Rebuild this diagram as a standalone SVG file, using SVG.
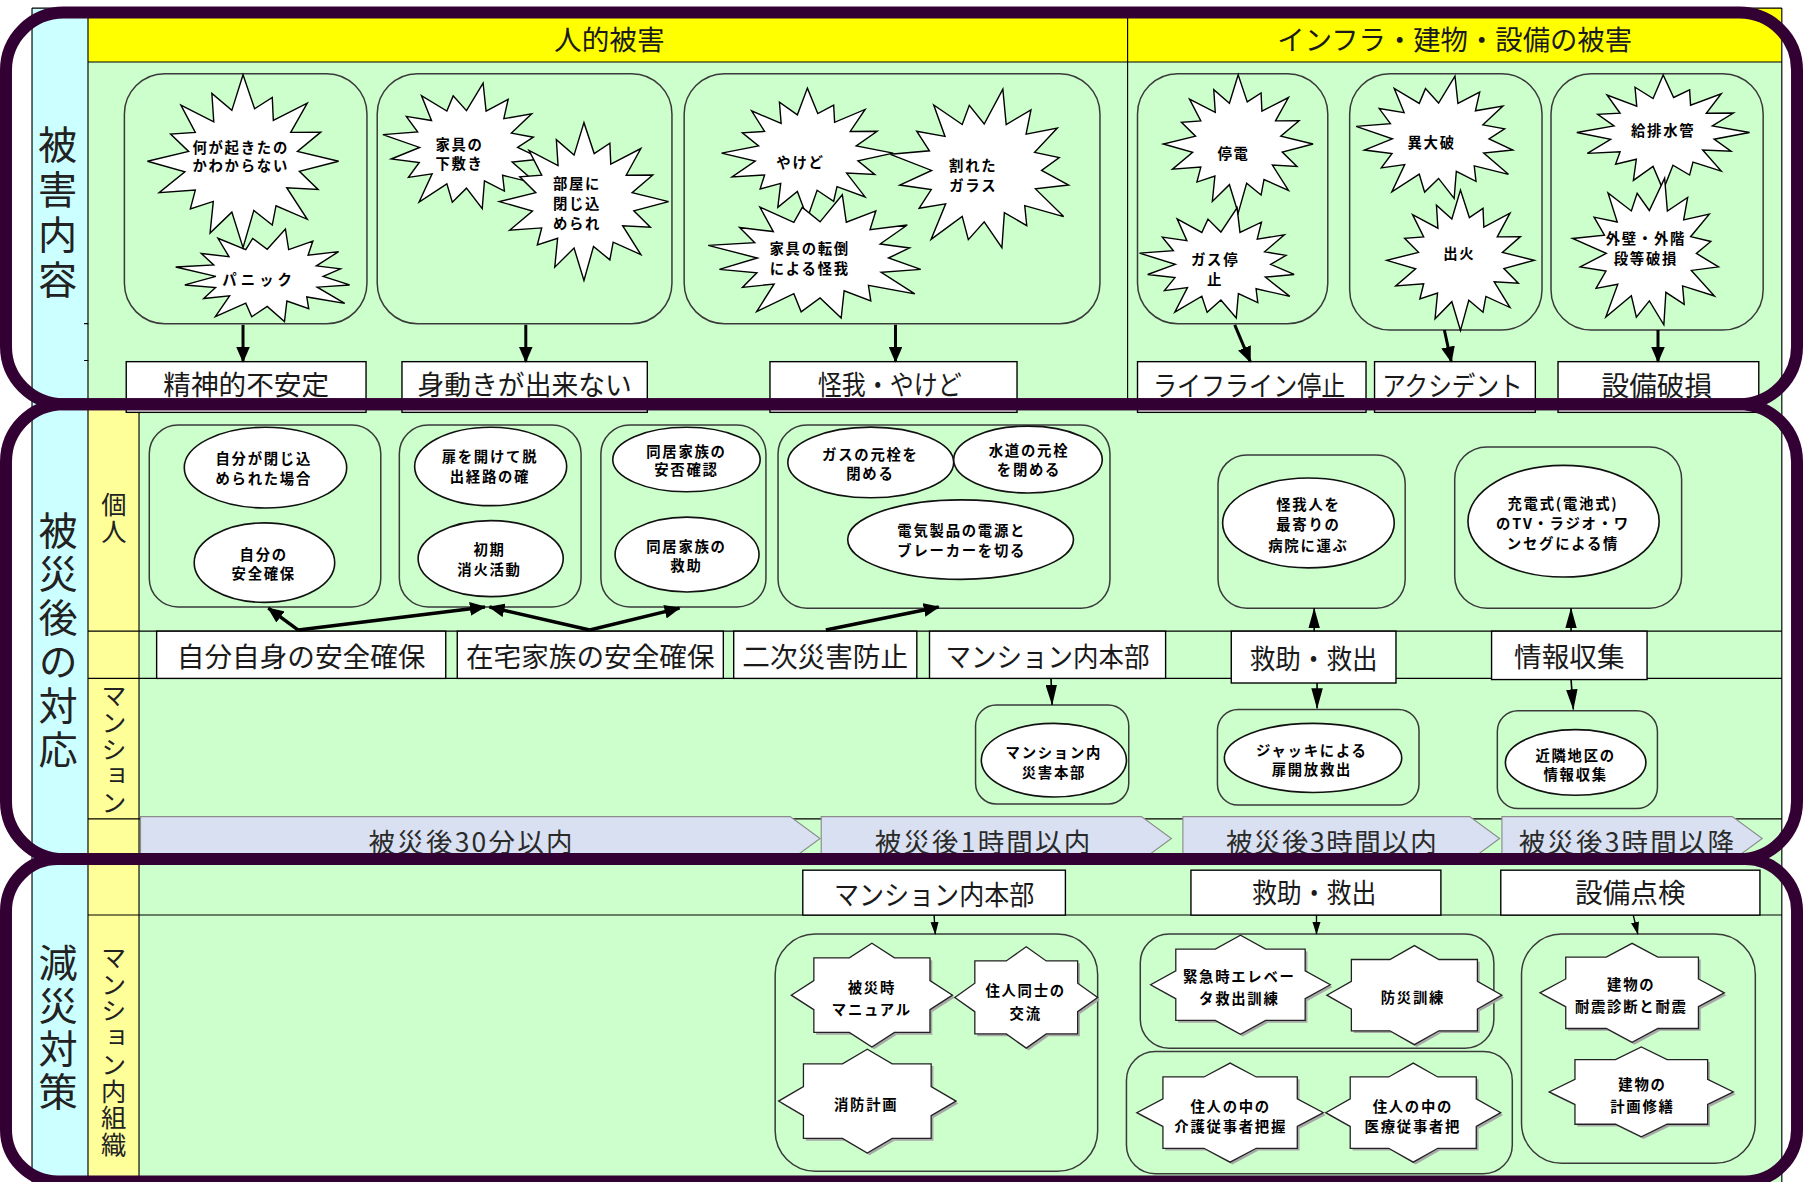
<svg xmlns="http://www.w3.org/2000/svg" width="1806" height="1182" viewBox="0 0 1806 1182">
<defs>
<style>
.vt{font-family:"Noto Sans CJK JP","Noto Sans CJK SC",sans-serif;writing-mode:vertical-rl;text-anchor:middle;fill:#222}
.lb{font-family:"Noto Sans CJK JP","Noto Sans CJK SC",sans-serif;font-size:24px;text-anchor:middle;dominant-baseline:central;fill:#1a1a1a}
.bt{font-family:"Noto Sans CJK JP","Noto Sans CJK SC",sans-serif;font-size:23px;text-anchor:middle;dominant-baseline:central;fill:#2a2a2a}
.s{font-family:"Noto Sans CJK JP","Noto Sans CJK SC",sans-serif;font-size:12.5px;font-weight:700;text-anchor:middle;dominant-baseline:central;fill:#000;letter-spacing:1.5px}
.tl{fill:none;stroke:#000;stroke-width:1}
.grp{fill:none;stroke:#3a3a3a;stroke-width:1.3}
.box{fill:#fff;stroke:#000;stroke-width:1.2}
.burst{fill:#fff;stroke:#000;stroke-width:1.4}
.ell{fill:#fff;stroke:#111;stroke-width:1.4}
.oct{fill:#fff;stroke:#222;stroke-width:1.3}
.osh{fill:#a8a8a8;stroke:none}
.panel{fill:none;stroke:#330033;stroke-width:10.4}
.bn{fill:#D9E0F1;stroke:#8c8c8c;stroke-width:1}
.aT{stroke:#000;stroke-width:2.6;fill:none;marker-end:url(#mA)}
.aD{stroke:#000;stroke-width:3;fill:none;marker-end:url(#mA)}
.aN{stroke:#000;stroke-width:1.4;fill:none;marker-end:url(#mT)}
.aS{stroke:#000;stroke-width:1.2;fill:none;marker-end:url(#mS)}
</style>
<polygon id="x1" vector-effect="non-scaling-stroke" points="1,0 .589,.117 .785,.326 .457,.306 .672,.672 .345,.515 .306,.739 .113,.569 0,1 -.117,.589 -.345,.832 -.311,.465 -.551,.551 -.499,.334 -.878,.364 -.608,.121 -1,0 -.569,-.113 -.758,-.314 -.499,-.334 -.65,-.65 -.306,-.457 -.326,-.785 -.117,-.589 0,-1 .121,-.608 .306,-.739 .317,-.474 .672,-.672 .499,-.334 .813,-.337 .569,-.113"/>
<polygon id="x2" vector-effect="non-scaling-stroke" points=".883,.176 .536,.222 .831,.556 .424,.424 .445,.665 .211,.508 .185,.932 0,.62 -.166,.834 -.23,.554 -.556,.831 -.403,.403 -.681,.456 -.554,.23 -.883,.176 -.55,0 -.981,-.195 -.573,-.237 -.706,-.473 -.41,-.41 -.528,-.789 -.23,-.554 -.156,-.785 0,-.56 .195,-.981 .23,-.554 .489,-.731 .438,-.438 .765,-.512 .527,-.218 .785,-.156 .6,0"/>
<polygon id="o8" vector-effect="non-scaling-stroke" points="1,0 .72,.28 .72,.72 .28,.72 0,1 -.28,.72 -.72,.72 -.72,.28 -1,0 -.72,-.28 -.72,-.72 -.28,-.72 0,-1 .28,-.72 .72,-.72 .72,-.28"/>
<marker id="mA" markerUnits="userSpaceOnUse" viewBox="0 0 14 12" refX="13" refY="6" markerWidth="14" markerHeight="12" orient="auto"><path d="M0,0L14,6L0,12z" fill="#000"/></marker>
<marker id="mT" markerUnits="userSpaceOnUse" viewBox="0 0 18 10" refX="17.5" refY="5" markerWidth="18" markerHeight="10" orient="auto"><path d="M0,0L18,5L0,10z" fill="#000"/></marker>
<marker id="mS" markerUnits="userSpaceOnUse" viewBox="0 0 11 7" refX="10.5" refY="3.5" markerWidth="11" markerHeight="7" orient="auto"><path d="M0,0L11,3.5L0,7z" fill="#000"/></marker>
</defs>
<rect width="1806" height="1182" fill="#fff"/>
<g transform="scale(1.15179)">
<g id="table">
<rect x="27.8" y="7" width="48.6" height="1020" fill="#CCFFFF"/>
<rect x="76.4" y="7" width="1470.6" height="46.8" fill="#FFFF00"/>
<rect x="76.4" y="53.8" width="1470.6" height="297.2" fill="#CCFFCC"/>
<rect x="120.7" y="351" width="1426.3" height="676" fill="#CCFFCC"/>
<rect x="76.4" y="351" width="44.3" height="676" fill="#FFFF99"/>
<path class="tl" d="M27.8,7V1030M76.4,7V1030M120.7,351V1030M1547,7V1030M27.8,7H1547M76.4,53.8H1547M979,7V351M76.4,548H1547M76.4,589H1547M76.4,711H1547M76.4,794.4H1547M73,281H77M73,313H77"/>
<text class="lb" x="529" y="33">人的被害</text>
<text class="lb" x="1263" y="33" textLength="308" lengthAdjust="spacingAndGlyphs">インフラ・建物・設備の被害</text>
<text class="vt" x="50" y="186" style="font-size:34px;letter-spacing:5px">被害内容</text>
<text class="vt" x="50.5" y="557" style="font-size:34px;letter-spacing:4px">被災後の対応</text>
<text class="vt" x="50.5" y="893" style="font-size:34px;letter-spacing:3.5px">減災対策</text>
<text class="vt" x="99" y="450" style="font-size:22px;letter-spacing:1px">個人</text>
<text class="vt" x="99" y="651" style="font-size:22px;letter-spacing:1.2px">マンション</text>
<text class="vt" x="98.6" y="913" style="font-size:22px;letter-spacing:1.2px">マンション内組織</text>
</g>
<g id="timeline">
<polygon class="bn" points="122,709 686,709 712,728 686,747 122,747"/>
<polygon class="bn" points="713,709 991,709 1017,728 991,747 713,747"/>
<polygon class="bn" points="1027,709 1276,709 1302,728 1276,747 1027,747"/>
<polygon class="bn" points="1304,709 1504,709 1530,728 1504,747 1304,747"/>
<text class="bt" x="408.5" y="729.5" textLength="177">被災後30分以内</text>
<text class="bt" x="853" y="729.5" textLength="187">被災後1時間以内</text>
<text class="bt" x="1156" y="729.5" textLength="183">被災後3時間以内</text>
<text class="bt" x="1412" y="729.5" textLength="187">被災後3時間以降</text>
</g>
<g id="dmg-human-mental">
<rect class="grp" x="108" y="64" width="210.6" height="217" rx="35"/>
<g id="b-panic"><use href="#x2" class="burst" transform="translate(232 240) scale(81 42)"/><text class="s" x="225" y="242" style="letter-spacing:3.5px">パニック</text></g>
<g id="b-what"><use href="#x1" class="burst" transform="translate(211 140) scale(83 75)"/><text class="s"><tspan x="209" y="126.5">何が起きたの</tspan><tspan x="209" y="142">かわからない</tspan></text></g>
</g>
<g id="dmg-human-stuck">
<rect class="grp" x="327.5" y="64" width="255.9" height="217" rx="35"/>
<g id="b-furniture"><use href="#x2" class="burst" transform="translate(405 128) scale(74 57)"/><text class="s"><tspan x="399" y="124">家具の</tspan><tspan x="399" y="140.5">下敷き</tspan></text></g>
<g id="b-locked"><use href="#x1" class="burst" transform="translate(507 175) scale(73.5 68.5)"/><text class="s"><tspan x="501" y="158">部屋に</tspan><tspan x="501" y="175.5">閉じ込</tspan><tspan x="501" y="193">められ</tspan></text></g>
</g>
<g id="dmg-human-injury">
<rect class="grp" x="594" y="64" width="361" height="217" rx="35"/>
<g id="b-burn"><use href="#x1" class="burst" transform="translate(701 133) scale(74.5 56.5)"/><text class="s" x="695" y="140">やけど</text></g>
<g id="b-glass"><use href="#x2" class="burst" transform="translate(854.5 148) scale(83 72)"/><text class="s"><tspan x="845" y="142">割れた</tspan><tspan x="845" y="160">ガラス</tspan></text></g>
<g id="b-fall"><use href="#x2" class="burst" transform="translate(712 224) scale(99 56)"/><text class="s"><tspan x="703" y="214.5">家具の転倒</tspan><tspan x="703" y="232">による怪我</tspan></text></g>
</g>
<g id="dmg-lifeline">
<rect class="grp" x="987.6" y="64" width="165.2" height="217" rx="35"/>
<g id="b-power"><use href="#x1" class="burst" transform="translate(1075 125) scale(65 60)"/><text class="s" x="1071" y="132">停電</text></g>
<g id="b-gas"><use href="#x2" class="burst" transform="translate(1060 229.5) scale(72 50)"/><text class="s"><tspan x="1055" y="224">ガス停</tspan><tspan x="1055" y="241">止</tspan></text></g>
</g>
<g id="dmg-accident">
<rect class="grp" x="1171.8" y="64" width="167" height="222.5" rx="35"/>
<g id="b-ab"><use href="#x2" class="burst" transform="translate(1249 120.5) scale(73 55.5)"/><text class="s" x="1243" y="123">異大破</text></g>
<g id="b-fire"><use href="#x1" class="burst" transform="translate(1268 226) scale(64 61)"/><text class="s" x="1267" y="219">出火</text></g>
</g>
<g id="dmg-equipment">
<rect class="grp" x="1346.6" y="64" width="184.2" height="222.5" rx="35"/>
<g id="b-pipe"><use href="#x1" class="burst" transform="translate(1444 115) scale(75 50)"/><text class="s" x="1444" y="112">給排水管</text></g>
<g id="b-wall"><use href="#x2" class="burst" transform="translate(1432 220) scale(68 66.5)"/><text class="s"><tspan x="1429" y="206">外壁・外階</tspan><tspan x="1429" y="223">段等破損</tspan></text></g>
</g>
<g id="lbl-mental"><rect class="box" x="109.6" y="314" width="208.2" height="44"/><text class="lb" x="213.7" y="332.5">精神的不安定</text></g>
<g id="lbl-stuck"><rect class="box" x="349" y="314" width="213" height="44"/><text class="lb" x="455.5" y="332.5" textLength="186" lengthAdjust="spacingAndGlyphs">身動きが出来ない</text></g>
<g id="lbl-injury"><rect class="box" x="668.5" y="314" width="214.5" height="44"/><text class="lb" x="772.5" y="332.5" textLength="125" lengthAdjust="spacingAndGlyphs">怪我・やけど</text></g>
<g id="lbl-lifeline"><rect class="box" x="987.6" y="314" width="198.4" height="44"/><text class="lb" x="1084.5" y="333" textLength="167" lengthAdjust="spacingAndGlyphs">ライフライン停止</text></g>
<g id="lbl-accident"><rect class="box" x="1193.4" y="314" width="139.6" height="44"/><text class="lb" x="1261" y="333" textLength="122" lengthAdjust="spacingAndGlyphs">アクシデント</text></g>
<g id="lbl-equip"><rect class="box" x="1352.7" y="314" width="174.3" height="44"/><text class="lb" x="1438.5" y="333">設備破損</text></g>
<g id="ind-self">
<rect class="grp" x="129.6" y="369" width="201" height="158" rx="25"/>
<ellipse class="ell" cx="230.5" cy="406" rx="70.5" ry="35"/><text class="s"><tspan x="229" y="397">自分が閉じ込</tspan><tspan x="229" y="414.5">められた場合</tspan></text>
<ellipse class="ell" cx="229.6" cy="488.5" rx="61" ry="34.5"/><text class="s"><tspan x="229" y="480">自分の</tspan><tspan x="229" y="497">安全確保</tspan></text>
</g>
<g id="ind-escape">
<rect class="grp" x="346.7" y="369" width="157.8" height="158" rx="25"/>
<ellipse class="ell" cx="426" cy="405" rx="66" ry="34"/><text class="s"><tspan x="425.4" y="395">扉を開けて脱</tspan><tspan x="425.4" y="412.5">出経路の確</tspan></text>
<ellipse class="ell" cx="426" cy="485" rx="63" ry="33"/><text class="s"><tspan x="425" y="476">初期</tspan><tspan x="425" y="493">消火活動</tspan></text>
</g>
<g id="ind-family">
<rect class="grp" x="521.7" y="369" width="143.3" height="158" rx="25"/>
<ellipse class="ell" cx="596" cy="399" rx="64" ry="28"/><text class="s"><tspan x="596" y="390.5">同居家族の</tspan><tspan x="596" y="406.5">安否確認</tspan></text>
<ellipse class="ell" cx="596.5" cy="481.5" rx="62.5" ry="32.5"/><text class="s"><tspan x="596" y="473">同居家族の</tspan><tspan x="596" y="490">救助</tspan></text>
</g>
<g id="ind-secondary">
<rect class="grp" x="675.5" y="369" width="288.2" height="159" rx="25"/>
<ellipse class="ell" cx="756" cy="401.5" rx="72" ry="30.7"/><text class="s"><tspan x="755.7" y="393.5">ガスの元栓を</tspan><tspan x="755.7" y="410">閉める</tspan></text>
<ellipse class="ell" cx="892.5" cy="399" rx="64.5" ry="29"/><text class="s"><tspan x="893.4" y="389.5">水道の元栓</tspan><tspan x="893.4" y="406.5">を閉める</tspan></text>
<ellipse class="ell" cx="834" cy="468.5" rx="98" ry="34.5"/><text class="s"><tspan x="835" y="459">電気製品の電源と</tspan><tspan x="835" y="477">ブレーカーを切る</tspan></text>
</g>
<g id="ind-rescue">
<rect class="grp" x="1057.5" y="395" width="162.5" height="133" rx="25"/>
<ellipse class="ell" cx="1136" cy="454" rx="74.5" ry="39"/><text class="s"><tspan x="1136" y="437">怪我人を</tspan><tspan x="1136" y="454.5">最寄りの</tspan><tspan x="1136" y="472">病院に運ぶ</tspan></text>
</g>
<g id="ind-info">
<rect class="grp" x="1263" y="388" width="197" height="140" rx="28"/>
<ellipse class="ell" cx="1357.5" cy="452.5" rx="83" ry="48.5"/><text class="s"><tspan x="1357" y="435.5">充電式(電池式)</tspan><tspan x="1357" y="453">のTV・ラジオ・ワ</tspan><tspan x="1357" y="470.5">ンセグによる情</tspan></text>
</g>
<g id="row-self"><rect class="box" x="136" y="548" width="251" height="41"/><text class="lb" x="261.5" y="568.5">自分自身の安全確保</text></g>
<g id="row-family"><rect class="box" x="397" y="548" width="231" height="41"/><text class="lb" x="512.5" y="568.5">在宅家族の安全確保</text></g>
<g id="row-secondary"><rect class="box" x="637" y="548" width="159" height="41"/><text class="lb" x="716.5" y="568.5">二次災害防止</text></g>
<g id="row-hq"><rect class="box" x="807" y="548" width="205" height="41"/><text class="lb" x="909.5" y="568.5" textLength="177" lengthAdjust="spacingAndGlyphs">マンション内本部</text></g>
<g id="row-rescue"><rect class="box" x="1069" y="548" width="143" height="45"/><text class="lb" x="1140.5" y="570" textLength="111" lengthAdjust="spacingAndGlyphs">救助・救出</text></g>
<g id="row-info"><rect class="box" x="1295" y="548" width="135" height="42"/><text class="lb" x="1362.5" y="569">情報収集</text></g>
<g id="man-hq"><rect class="grp" x="847" y="612" width="133" height="86" rx="18"/><ellipse class="ell" cx="915" cy="660" rx="63" ry="32"/><text class="s"><tspan x="915" y="652">マンション内</tspan><tspan x="915" y="669.5">災害本部</tspan></text></g>
<g id="man-rescue"><rect class="grp" x="1057" y="616" width="175" height="83" rx="18"/><ellipse class="ell" cx="1140" cy="658" rx="77" ry="30"/><text class="s"><tspan x="1139" y="650.5">ジャッキによる</tspan><tspan x="1139" y="667">扉開放救出</tspan></text></g>
<g id="man-info"><rect class="grp" x="1300" y="617" width="139" height="85" rx="18"/><ellipse class="ell" cx="1368" cy="662" rx="61" ry="28.5"/><text class="s"><tspan x="1368" y="654.5">近隣地区の</tspan><tspan x="1368" y="671">情報収集</tspan></text></g>
<g id="hdr-hq"><rect class="box" x="697" y="755.5" width="228" height="39"/><text class="lb" x="811" y="775" textLength="174" lengthAdjust="spacingAndGlyphs">マンション内本部</text></g>
<g id="hdr-rescue"><rect class="box" x="1034" y="755.5" width="217" height="39"/><text class="lb" x="1141" y="774" textLength="108" lengthAdjust="spacingAndGlyphs">救助・救出</text></g>
<g id="hdr-check"><rect class="box" x="1303" y="755.5" width="225" height="39"/><text class="lb" x="1415.5" y="774">設備点検</text></g>
<g id="mit-hq">
<rect class="grp" x="673" y="811" width="280" height="206" rx="35"/>
<g id="s-manual"><use href="#o8" class="osh" transform="translate(759 866) scale(70 45)"/><use href="#o8" class="oct" transform="translate(757 864) scale(70 45)"/><text class="s"><tspan x="757" y="856">被災時</tspan><tspan x="757" y="875.5">マニュアル</tspan></text></g>
<g id="s-exchange"><use href="#o8" class="osh" transform="translate(893 868) scale(62 44)"/><use href="#o8" class="oct" transform="translate(891 866) scale(62 44)"/><text class="s"><tspan x="890.5" y="859">住人同士の</tspan><tspan x="890.5" y="878.5">交流</tspan></text></g>
<g id="s-fireplan"><use href="#o8" class="osh" transform="translate(755 958) scale(77 45)"/><use href="#o8" class="oct" transform="translate(753 956) scale(77 45)"/><text class="s" x="752" y="957.8">消防計画</text></g>
</g>
<g id="mit-drill">
<rect class="grp" x="990" y="811" width="307" height="99" rx="25"/>
<g id="s-elevator"><use href="#o8" class="osh" transform="translate(1079 857) scale(78 43)"/><use href="#o8" class="oct" transform="translate(1077 855) scale(78 43)"/><text class="s"><tspan x="1076" y="846.5">緊急時エレベー</tspan><tspan x="1076" y="865.5">タ救出訓練</tspan></text></g>
<g id="s-drill"><use href="#o8" class="osh" transform="translate(1230 866) scale(76 43)"/><use href="#o8" class="oct" transform="translate(1228 864) scale(76 43)"/><text class="s" x="1226.7" y="865.3">防災訓練</text></g>
</g>
<g id="mit-people">
<rect class="grp" x="978" y="913" width="335" height="106" rx="25"/>
<g id="s-care"><use href="#o8" class="osh" transform="translate(1070 968) scale(81 43)"/><use href="#o8" class="oct" transform="translate(1068 966) scale(81 43)"/><text class="s"><tspan x="1068.5" y="959">住人の中の</tspan><tspan x="1068.5" y="977">介護従事者把握</tspan></text></g>
<g id="s-medical"><use href="#o8" class="osh" transform="translate(1229 968) scale(76 43)"/><use href="#o8" class="oct" transform="translate(1227 966) scale(76 43)"/><text class="s"><tspan x="1226.7" y="959">住人の中の</tspan><tspan x="1226.7" y="977">医療従事者把</tspan></text></g>
</g>
<g id="mit-building">
<rect class="grp" x="1321" y="811" width="203" height="199" rx="35"/>
<g id="s-seismic"><use href="#o8" class="osh" transform="translate(1419 864) scale(80 43)"/><use href="#o8" class="oct" transform="translate(1417 862) scale(80 43)"/><text class="s"><tspan x="1416.3" y="853.5">建物の</tspan><tspan x="1416.3" y="872.5">耐震診断と耐震</tspan></text></g>
<g id="s-repair"><use href="#o8" class="osh" transform="translate(1427 950) scale(80 39)"/><use href="#o8" class="oct" transform="translate(1425 948) scale(80 39)"/><text class="s"><tspan x="1426" y="940.5">建物の</tspan><tspan x="1426" y="959.5">計画修繕</tspan></text></g>
</g>
<g id="connectors">
<line class="aT" x1="211" y1="282" x2="211" y2="314"/>
<line class="aT" x1="456.5" y1="282" x2="456.5" y2="314"/>
<line class="aT" x1="777.5" y1="282" x2="777.5" y2="314"/>
<line class="aT" x1="1072" y1="282" x2="1085.5" y2="314"/>
<line class="aT" x1="1254" y1="286.5" x2="1260" y2="314"/>
<line class="aT" x1="1439.5" y1="286.5" x2="1439.5" y2="314"/>
<line class="aD" x1="259" y1="547" x2="233" y2="528"/>
<line class="aD" x1="259" y1="547" x2="421" y2="527"/>
<line class="aD" x1="512" y1="547" x2="425" y2="527"/>
<line class="aD" x1="512" y1="547" x2="590" y2="528"/>
<line class="aD" x1="717" y1="547" x2="815" y2="527"/>
<line class="aN" x1="1141" y1="548" x2="1141" y2="528"/>
<line class="aN" x1="1143.5" y1="593" x2="1143.5" y2="615"/>
<line class="aN" x1="1364" y1="548" x2="1364" y2="528"/>
<line class="aN" x1="1364" y1="590" x2="1366" y2="616"/>
<line class="aN" x1="912.5" y1="589" x2="913.5" y2="612"/>
<line class="aS" x1="811" y1="794.5" x2="812" y2="811"/>
<line class="aS" x1="1143" y1="794.5" x2="1143" y2="811"/>
<line class="aS" x1="1418" y1="794.5" x2="1422" y2="811"/>
</g>
<g id="panels">
<rect class="panel" x="5.2" y="10.9" width="1555" height="340" rx="50"/>
<rect class="panel" x="5.2" y="350.9" width="1555" height="395" rx="50"/>
<rect class="panel" x="5.2" y="745.8" width="1555" height="280" rx="45"/>
</g>
</g>
</svg>
